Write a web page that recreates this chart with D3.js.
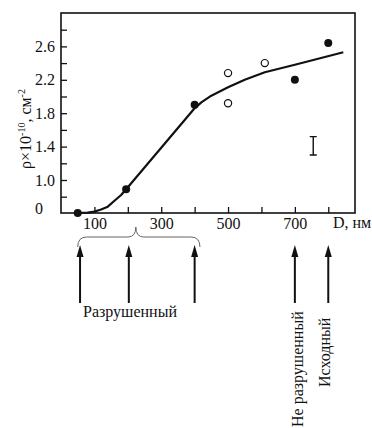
<!DOCTYPE html>
<html>
<head>
<meta charset="utf-8">
<title>rho vs D</title>
<script src="https://cdn.jsdelivr.net/npm/d3@7"></script>
<style>
  body { margin: 0; background: #fff; }
  svg text { font-family: "Liberation Serif", "Times New Roman", "DejaVu Serif", serif; fill: #111; }
</style>
</head>
<body>
<svg id="chart" width="372" height="428"></svg>
<script>
// points
var filledD = [50, 195, 400, 700, 800];
var filledRho = [0, 0.89, 1.90, 2.20, 2.64];
var openD = [500, 500, 610];
var openRho = [2.28, 1.92, 2.40];
// fitted curve
var curveD = [50, 80, 100, 120, 140, 160, 180, 195, 398, 420, 450, 500, 550, 610, 700, 845];
var curveRho = [0, 0.02, 0.07, 0.17, 0.31, 0.60, 0.82, 0.89, 1.85, 1.93, 2.01, 2.11, 2.20, 2.29, 2.38, 2.53];
// error bar
var errD = 755, errLo = 1.30, errHi = 1.52;
// ticks
var xTicks = [100, 200, 300, 400, 500, 600, 700, 800];
var xLabels = [100, 300, 500, 700];
var yTicks = [0.8, 1.0, 1.2, 1.4, 1.6, 1.8, 2.0, 2.2, 2.4, 2.6, 2.8];
var yLabels = [1.0, 1.4, 1.8, 2.2, 2.6];
// samples marked with arrows
var arrowD = [57, 203, 400, 700, 800];

var svg = d3.select("#chart");
var mLeft = 61, mRight = 355, mTop = 13, mBottom = 213;

var x = d3.scaleLinear().domain([0, 880]).range([mLeft, mRight]);
// axis is broken near the bottom: 0 sits at the frame, 0.8 upward is linear
var y = d3.scaleLinear().domain([0, 0.8, 3.0]).range([mBottom, 196.7, mTop]);

// x ticks (inside)
var xAxis = d3.axisBottom(x).tickValues(xTicks).tickSize(-6)
  .tickFormat(function(d) { return xLabels.indexOf(d) >= 0 ? d : ""; });
var gx = svg.append("g").attr("transform", "translate(0," + mBottom + ")").call(xAxis);
gx.select(".domain").remove();
gx.selectAll(".tick line").attr("stroke", "#111").attr("stroke-width", 1.3);
gx.selectAll(".tick text").attr("y", 5).attr("dy", "0.71em")
  .style("font-size", "16px").attr("fill", "#111");

// y ticks (inside)
var yAxis = d3.axisLeft(y).tickValues(yTicks).tickSize(-6)
  .tickFormat(function(d) { return yLabels.indexOf(d) >= 0 ? d.toFixed(1) : ""; });
var gy = svg.append("g").attr("transform", "translate(" + mLeft + ",0)").call(yAxis);
gy.select(".domain").remove();
gy.selectAll(".tick line").attr("stroke", "#111").attr("stroke-width", 1.3);
gy.selectAll(".tick text").attr("text-anchor", "start").attr("x", 35 - mLeft)
  .style("font-size", "16px").attr("fill", "#111");

svg.append("text").attr("x", 35).attr("y", y(0) - 4).attr("dy", "0.32em")
  .style("font-size", "16px").text("0");

svg.append("text").attr("x", 333).attr("y", 228)
  .style("font-size", "16px").text("D, нм");

// frame
svg.append("rect").attr("x", mLeft).attr("y", mTop)
  .attr("width", mRight - mLeft).attr("height", mBottom - mTop)
  .attr("fill", "none").attr("stroke", "#111").attr("stroke-width", 1.6);

// y label
var ylab = svg.append("text")
  .attr("transform", "translate(31,129) rotate(-90)")
  .attr("text-anchor", "middle").style("font-size", "16px");
ylab.append("tspan").text("ρ×10");
ylab.append("tspan").attr("dy", -6).style("font-size", "10px").text("-10");
ylab.append("tspan").attr("dy", 6).text(", см");
ylab.append("tspan").attr("dy", -6).style("font-size", "10px").text("-2");

// curve
var line = d3.line().x(function(d) { return x(d[0]); }).y(function(d) { return y(d[1]); });
svg.append("path").datum(d3.zip(curveD, curveRho))
  .attr("d", line).attr("fill", "none").attr("stroke", "#111").attr("stroke-width", 2.2)
  .attr("stroke-linejoin", "round");

// points
svg.selectAll("circle.filled").data(d3.zip(filledD, filledRho)).enter()
  .append("circle").attr("class", "filled")
  .attr("cx", function(d) { return x(d[0]); })
  .attr("cy", function(d) { return y(d[1]); })
  .attr("r", 4).attr("fill", "#111");

svg.selectAll("circle.open").data(d3.zip(openD, openRho)).enter()
  .append("circle").attr("class", "open")
  .attr("cx", function(d) { return x(d[0]); })
  .attr("cy", function(d) { return y(d[1]); })
  .attr("r", 3.6).attr("fill", "#fff").attr("stroke", "#111").attr("stroke-width", 1.2);

// error bar
var ex = x(errD);
svg.append("path")
  .attr("d", "M" + (ex - 3.5) + "," + y(errHi) + "H" + (ex + 3.5) +
    "M" + ex + "," + y(errHi) + "V" + y(errLo) +
    "M" + (ex - 3.5) + "," + y(errLo) + "H" + (ex + 3.5))
  .attr("fill", "none").attr("stroke", "#111").attr("stroke-width", 1.4);

// brace over the destroyed samples
var b0 = x(50), b1 = x(416), bm = x(224);
svg.append("path")
  .attr("d", "M" + b0 + ",247 Q" + b0 + ",237 " + (b0 + 9) + ",237 L" + (bm - 8) + ",237 Q" + bm + ",237 " + bm + ",227" +
    " Q" + bm + ",237 " + (bm + 8) + ",237 L" + (b1 - 9) + ",237 Q" + b1 + ",237 " + b1 + ",247")
  .attr("fill", "none").attr("stroke", "#666").attr("stroke-width", 1);

// arrows
var arrows = svg.selectAll("g.arrow").data(arrowD).enter().append("g")
  .attr("class", "arrow")
  .attr("transform", function(d) { return "translate(" + x(d) + ",0)"; });
arrows.append("line").attr("x1", 0).attr("x2", 0).attr("y1", 252).attr("y2", 303)
  .attr("stroke", "#111").attr("stroke-width", 2);
arrows.append("path").attr("d", "M0,245 L3.5,257 L-3.5,257 Z").attr("fill", "#111");

svg.append("text").attr("x", 83).attr("y", 317).style("font-size", "16px").text("Разрушенный");

svg.append("text").attr("transform", "translate(" + (x(700) + 8) + ",427) rotate(-90)")
  .style("font-size", "16px").text("Не разрушенный");
svg.append("text").attr("transform", "translate(" + (x(800) + 2) + ",387) rotate(-90)")
  .style("font-size", "16px").text("Исходный");
</script>
</body>
</html>
